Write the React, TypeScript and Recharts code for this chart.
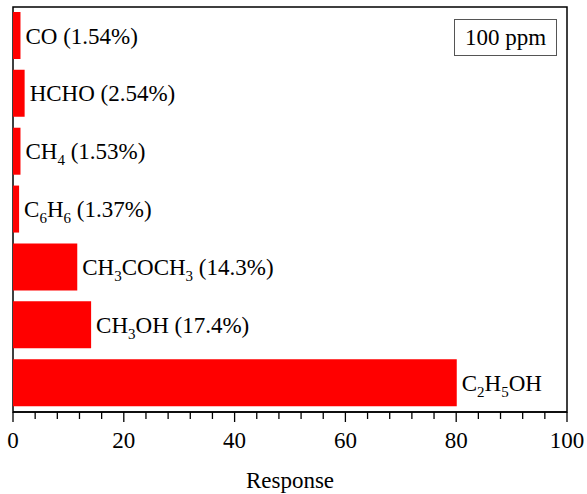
import React from 'react';
import { BarChart, Bar, XAxis, YAxis, LabelList, ReferenceArea } from 'recharts';

const gases = ['CO', 'HCHO', 'CH4', 'C6H6', 'CH3COCH3', 'CH3OH', 'C2H5OH'];
const shares = ['1.54%', '2.54%', '1.53%', '1.37%', '14.3%', '17.4%', ''];
const responses = [1.35, 2.1, 1.35, 1.1, 11.6, 14.1, 80.1];
const majorTicks = [0, 20, 40, 60, 80, 100];
const allTicks = [0, 4, 8, 12, 16, 20, 24, 28, 32, 36, 40, 44, 48, 52, 56, 60, 64, 68, 72, 76, 80, 84, 88, 92, 96, 100];

const data = gases.map((gas, i) => ({ gas, response: responses[i] }));

const FONT = '"Liberation Serif", "Times New Roman", serif';
const SIZE = 23;

// digits in a formula are drawn as subscripts
const renderLabel = (props: any) => {
  const { x, y, width, height, value, index } = props;
  const parts = String(value).split(/(\d+)/).filter(Boolean);
  let low = false;
  const spans: React.ReactNode[] = parts.map((p, i) => {
    const isSub = /^\d+$/.test(p);
    const dy = isSub && !low ? 6 : !isSub && low ? -6 : 0;
    low = isSub;
    return (
      <tspan key={i} dy={dy} fontSize={isSub ? 15 : SIZE}>
        {p}
      </tspan>
    );
  });
  const share = shares[index];
  if (share) {
    spans.push(
      <tspan key="s" dy={low ? -6 : 0} fontSize={SIZE}>
        {' (' + share + ')'}
      </tspan>
    );
  }
  return (
    <text x={x + width + 5} y={y + height / 2 + 8} fill="#000" style={{ fontFamily: FONT }}>
      {spans}
    </text>
  );
};

const renderTick = (props: any) => {
  const { x, y, payload } = props;
  const major = majorTicks.includes(payload.value);
  return (
    <g>
      <line x1={x} x2={x} y1={y} y2={y + (major ? 10 : 7)} stroke="#000" strokeWidth={1.3} />
      {major && (
        <text x={x} y={y + 36} textAnchor="middle" fontSize={SIZE} fill="#000" style={{ fontFamily: FONT }}>
          {payload.value}
        </text>
      )}
    </g>
  );
};

export default function App() {
  return (
    <div style={{ position: 'absolute', left: 0, top: 0, width: 587, height: 494, background: '#fff', fontFamily: FONT }}>
      <BarChart
        width={587}
        height={494}
        data={data}
        layout="vertical"
        margin={{ top: 7, right: 20, bottom: 0, left: 13 }}
        style={{ fontFamily: FONT }}
      >
        <XAxis
          type="number"
          domain={[0, 100]}
          ticks={allTicks}
          interval={0}
          tickSize={0}
          tickMargin={0}
          tickLine={false}
          tick={renderTick}
          height={82}
          axisLine={{ stroke: '#000', strokeWidth: 1.5 }}
          label={{ value: 'Response', position: 'insideBottom', offset: 6, fontSize: SIZE, fill: '#000', style: { fontFamily: FONT } }}
        />
        <YAxis type="category" dataKey="gas" hide width={0} />
        <ReferenceArea x1={0} x2={100} fill="none" stroke="#000" strokeWidth={1.5} ifOverflow="visible" />
        <Bar dataKey="response" fill="#ff0000" barSize={47} isAnimationActive={false}>
          <LabelList dataKey="gas" content={renderLabel} />
        </Bar>
      </BarChart>
      <div
        style={{
          position: 'absolute',
          left: 454,
          top: 19,
          width: 103,
          height: 37,
          boxSizing: 'border-box',
          border: '1px solid #555',
          fontSize: SIZE,
          lineHeight: '35px',
          textAlign: 'center',
          color: '#000',
        }}
      >
        100 ppm
      </div>
    </div>
  );
}
